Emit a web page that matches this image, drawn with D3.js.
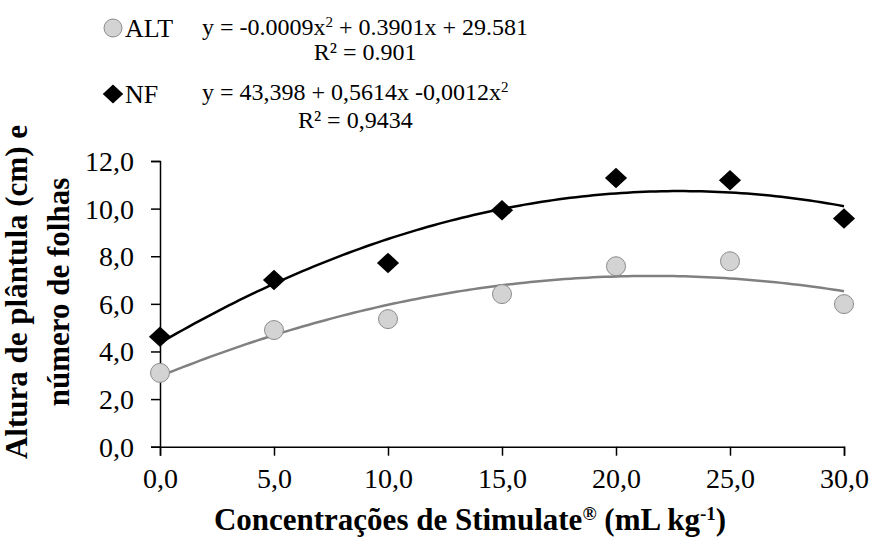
<!DOCTYPE html>
<html>
<head>
<meta charset="utf-8">
<script src="https://cdn.jsdelivr.net/npm/d3@7"></script>
<style>
  html, body { margin: 0; padding: 0; background: #fff; }
  svg, svg text, svg tspan { font-family: "Liberation Serif", "Times New Roman", Times, "DejaVu Serif", serif !important; }
</style>
</head>
<body>
<div id="chart"></div>
<script>
// ---- data ----
const doses = [0, 5, 10, 15, 20, 25, 30];
const altValues = [3.1, 4.9, 5.36, 6.41, 7.58, 7.79, 5.99];
const nfValues = [4.62, 7.0, 7.72, 9.93, 11.29, 11.19, 9.58];
const yTicks = [0, 2, 4, 6, 8, 10, 12];
const xTicks = [0, 5, 10, 15, 20, 25, 30];

const W = 875, H = 548;
const FONT = '"Liberation Serif", "Times New Roman", Times, serif';
const fmt = d => d.toFixed(1).replace('.', ',');

const svg = d3.select('#chart').append('svg')
    .attr('width', W)
    .attr('height', H)
    .attr('font-family', FONT);

const x = d3.scaleLinear().domain([0, 30]).range([160, 844]);
const y = d3.scaleLinear().domain([0, 12]).range([446.7, 161]);

// least squares quadratic fit (excel-like polynomial trendline)
function quadFit(xs, ys) {
    let s = [0, 0, 0, 0, 0], t = [0, 0, 0];
    xs.forEach((xi, i) => {
        for (let k = 0; k < 5; k++) s[k] += Math.pow(xi, k);
        for (let k = 0; k < 3; k++) t[k] += ys[i] * Math.pow(xi, k);
    });
    const m = [[s[0], s[1], s[2], t[0]], [s[1], s[2], s[3], t[1]], [s[2], s[3], s[4], t[2]]];
    for (let i = 0; i < 3; i++) {
        for (let j = i + 1; j < 3; j++) {
            const f = m[j][i] / m[i][i];
            for (let k = i; k < 4; k++) m[j][k] -= f * m[i][k];
        }
    }
    const c = [0, 0, 0];
    for (let i = 2; i >= 0; i--) {
        let v = m[i][3];
        for (let k = i + 1; k < 3; k++) v -= m[i][k] * c[k];
        c[i] = v / m[i][i];
    }
    return xv => c[0] + c[1] * xv + c[2] * xv * xv;
}

// ---- axes ----
const yAxis = svg.append('g')
    .attr('transform', `translate(${x(0)},0)`)
    .call(d3.axisLeft(y).tickValues(yTicks).tickFormat(fmt).tickSize(9).tickPadding(17));
const xAxis = svg.append('g')
    .attr('transform', `translate(0,${y(0)})`)
    .call(d3.axisBottom(x).tickValues(xTicks).tickFormat(fmt).tickSize(9).tickPadding(11));

[yAxis, xAxis].forEach(g => {
    g.attr('font-family', FONT);
    g.select('.domain').attr('stroke', '#000').attr('stroke-width', 1.5);
    g.selectAll('.tick line').attr('stroke', '#000').attr('stroke-width', 1.5);
    g.selectAll('.tick text')
        .attr('font-size', 28)
        .attr('fill', '#000');
});
yAxis.selectAll('.tick text').attr('dy', '0.34em');
xAxis.selectAll('.tick text').attr('dy', '0.76em');

// ---- trend lines ----
const altFit = quadFit(doses, altValues);
const nfFit = quadFit(doses, nfValues);
const xs = d3.range(0, 30.01, 0.25);
const line = f => d3.line().x(d => x(d)).y(d => y(f(d)))(xs);

svg.append('path').attr('d', line(nfFit))
    .attr('fill', 'none').attr('stroke', '#000').attr('stroke-width', 2.5);
svg.append('path').attr('d', line(altFit))
    .attr('fill', 'none').attr('stroke', '#808080').attr('stroke-width', 2.5);

// ---- markers ----
const diamond = {
    draw(ctx, size) {
        const r = Math.sqrt(size / 2);
        ctx.moveTo(0, -r);
        ctx.lineTo(r * 1.08, 0);
        ctx.lineTo(0, r);
        ctx.lineTo(-r * 1.08, 0);
        ctx.closePath();
    }
};

svg.append('g').selectAll('path')
    .data(doses)
    .join('path')
    .attr('transform', (d, i) => `translate(${x(d)},${y(nfValues[i])})`)
    .attr('d', d3.symbol().type(diamond).size(210))
    .attr('fill', '#000');

svg.append('g').selectAll('circle')
    .data(doses)
    .join('circle')
    .attr('cx', d => x(d))
    .attr('cy', (d, i) => y(altValues[i]))
    .attr('r', 9.5)
    .attr('fill', '#d3d3d3')
    .attr('stroke', '#8c8c8c')
    .attr('stroke-width', 1);

// ---- legend ----
svg.append('circle')
    .attr('cx', 113).attr('cy', 28).attr('r', 9)
    .attr('fill', '#d3d3d3').attr('stroke', '#8c8c8c').attr('stroke-width', 1);
svg.append('path')
    .attr('transform', 'translate(113,94)')
    .attr('d', d3.symbol().type(diamond).size(180)())
    .attr('fill', '#000');

svg.append('text').attr('x', 125).attr('y', 37).attr('font-size', 26).text('ALT');
svg.append('text').attr('x', 125).attr('y', 103).attr('font-size', 26).text('NF');

function equation(yPos, parts) {
    const t = svg.append('text').attr('x', 202).attr('y', yPos).attr('font-size', 24);
    parts.forEach(p => {
        const s = t.append('tspan').text(p.t);
        if (p.sup) s.attr('font-size', 15).attr('baseline-shift', 'super');
    });
    return t;
}

const eq1 = equation(35, [{ t: 'y = -0.0009x' }, { t: '2', sup: true }, { t: ' + 0.3901x + 29.581' }]);
const eq2 = equation(100, [{ t: 'y = 43,398 + 0,5614x -0,0012x' }, { t: '2', sup: true }]);

[[eq1, 'R² = 0.901', 60], [eq2, 'R² = 0,9434', 128]].forEach(([eq, label, yy]) => {
    const b = eq.node().getBBox();
    svg.append('text')
        .attr('x', b.x + b.width / 2)
        .attr('y', yy)
        .attr('font-size', 24)
        .attr('text-anchor', 'middle')
        .text(label);
});

// ---- axis titles ----
const xTitle = svg.append('text')
    .attr('x', 470).attr('y', 530)
    .attr('text-anchor', 'middle')
    .attr('font-size', 31)
    .attr('font-weight', 'bold');
xTitle.append('tspan').text('Concentrações de Stimulate');
xTitle.append('tspan').attr('font-size', 19).attr('baseline-shift', 'super').text('®');
xTitle.append('tspan').text(' (mL kg');
xTitle.append('tspan').attr('font-size', 19).attr('baseline-shift', 'super').text('-1');
xTitle.append('tspan').text(')');

const yTitle = svg.append('g').attr('transform', 'translate(0,292) rotate(-90)');
yTitle.append('text')
    .attr('x', 0).attr('y', 27)
    .attr('text-anchor', 'middle')
    .attr('font-size', 31)
    .attr('font-weight', 'bold')
    .text('Altura de plântula (cm) e');
yTitle.append('text')
    .attr('x', 0).attr('y', 69)
    .attr('text-anchor', 'middle')
    .attr('font-size', 31)
    .attr('font-weight', 'bold')
    .text('número de folhas');
</script>
</body>
</html>
